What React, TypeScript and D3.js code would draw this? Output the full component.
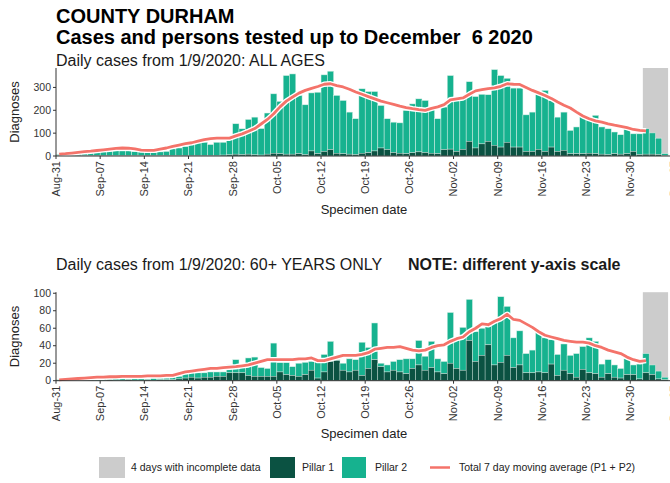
import * as d3 from "d3";

// daily values from 1 Sep 2020 to 6 Dec 2020
const firstDay = new Date(2020, 8, 1);
const incompleteDays = 4;

const weekLabels = [
  "Aug-31", "Sep-07", "Sep-14", "Sep-21", "Sep-28", "Oct-05", "Oct-12", "Oct-19",
  "Oct-26", "Nov-02", "Nov-09", "Nov-16", "Nov-23", "Nov-30", "Dec-07",
];

// ALL AGES
const allTotal = [
  6, 8, 10, 12, 10, 14, 16,
  20, 22, 24, 22, 22, 20, 18,
  16, 15, 18, 20, 31, 35, 42,
  50, 57, 60, 50, 60, 60, 75,
  141, 119, 160, 170, 120, 188, 272,
  239, 352, 359, 265, 224, 276, 279,
  355, 371, 265, 243, 192, 163, 294,
  282, 282, 221, 163, 148, 145, 199,
  228, 250, 243, 207, 163, 214, 352,
  258, 255, 325, 260, 270, 268, 378,
  352, 340, 297, 297, 180, 192, 268,
  287, 243, 170, 192, 112, 127, 178,
  166, 178, 127, 119, 105, 93, 119,
  97, 97, 119, 101, 78, 10,
];
const allPillar1 = [
  1, 1, 1, 2, 1, 2, 2,
  2, 2, 1, 2, 2, 1, 1,
  2, 1, 1, 2, 2, 2, 3,
  3, 3, 3, 3, 3, 4, 5,
  8, 6, 8, 5, 4, 8, 12,
  10, 8, 8, 10, 6, 22, 10,
  20, 28, 12, 10, 8, 6, 12,
  14, 22, 35, 28, 15, 12, 10,
  14, 18, 15, 12, 10, 28, 30,
  20, 29, 64, 35, 53, 64, 47,
  39, 60, 39, 39, 20, 20, 29,
  20, 39, 20, 25, 10, 10, 10,
  12, 10, 8, 6, 10, 8, 10,
  20, 6, 8, 8, 6, 2,
];
const allAvg = [
  8, 10, 13, 16, 19, 21, 24,
  27, 30, 33, 35, 34, 31, 26,
  25, 25, 30, 35, 42, 48, 54,
  58, 65, 72, 76, 78, 78, 78,
  88, 97, 108, 120, 140, 160, 185,
  215, 240, 258, 275, 287, 296, 304,
  314, 316, 308, 302, 292, 280, 270,
  260, 250, 240, 233, 226, 218, 212,
  207, 203, 200, 208, 215, 225, 246,
  250, 254, 270, 285, 290, 295, 298,
  305, 316, 314, 313, 300, 287, 276,
  265, 252, 236, 222, 210, 192, 175,
  163, 154, 148, 141, 135, 130, 124,
  116, 112, 110,
];

// 60+ YEARS ONLY
const oldTotal = [
  1, 1, 1, 1, 2, 2, 2,
  2, 2, 2, 2, 2, 2, 2,
  2, 3, 3, 3, 4, 5, 8,
  10, 9, 9, 10, 10, 10, 18,
  24, 16, 26, 27, 15, 14, 43,
  21, 21, 16, 20, 21, 22, 23,
  30, 45, 24, 20, 25, 24, 44,
  38, 66, 20, 18, 22, 24, 25,
  25, 46, 28, 45, 25, 22, 78,
  48, 61, 93, 56, 60, 62, 66,
  96, 85, 49, 57, 31, 35, 56,
  49, 47, 30, 42, 29, 31, 39,
  49, 45, 19, 24, 18, 14, 25,
  18, 19, 31, 18, 11, 4,
];
const oldPillar1 = [
  0, 0, 0, 0, 0, 1, 0,
  0, 1, 0, 0, 1, 0, 0,
  1, 0, 1, 1, 1, 2, 3,
  4, 3, 4, 4, 5, 5, 9,
  9, 9, 6, 5, 5, 5, 5,
  10, 7, 6, 5, 7, 12, 3,
  10, 22, 23, 12, 10, 12, 6,
  14, 24, 16, 10, 12, 10, 8,
  14, 18, 12, 15, 10, 8, 20,
  14, 12, 46, 22, 29, 41, 18,
  21, 29, 15, 18, 9, 9, 10,
  9, 19, 6, 12, 8, 4, 13,
  9, 8, 4, 8, 4, 3, 7,
  7, 2, 9, 7, 2, 1,
];
const oldAvg = [
  1, 1.5, 2, 2.5, 3, 3.5, 4,
  4, 4.5, 4.5, 5, 5, 5, 5,
  5.5, 5.5, 5.5, 6, 6, 8, 10,
  11, 12, 13, 14, 14, 15, 15.5,
  16, 17, 18, 20, 22, 24, 24,
  24, 24, 24, 25, 25, 26, 23,
  23, 25, 27, 29, 29, 29, 30,
  32, 36, 37, 38, 38, 39, 37,
  35, 34, 35, 38, 40, 41, 45,
  48, 50, 56, 60, 65, 64, 68,
  71, 76, 70, 69, 65, 61, 56,
  52, 50, 48, 46, 45, 44, 44,
  43, 40, 38, 35, 33, 31, 27,
  24, 22, 23,
];

const FONT = "'Liberation Sans', Arial, sans-serif";
const P1 = "#0b5242";
const P2 = "#16b28f";
const GREY = "#cccccc";
const LINE = "#f4736a";

const days = allTotal.map((_, i) => d3.timeDay.offset(firstDay, i));
const lastDay = days[days.length - 1];
const parseTick = d3.timeParse("%Y-%b-%d");
const tickDates = weekLabels.map((l) => parseTick("2020-" + l) as Date);

const x = d3
  .scaleTime()
  .domain([tickDates[0], tickDates[tickDates.length - 1]])
  .range([56, 674.4]);
const dayW = x(days[1]) - x(days[0]);

type PanelProps = {
  total: number[];
  pillar1: number[];
  avg: number[];
  top: number;
  zero: number;
  yMax: number;
  yTicks: number[];
  labelY: number;
};

function Panel({ total, pillar1, avg, top, zero, yMax, yTicks, labelY }: PanelProps) {
  const y = d3.scaleLinear().domain([0, yMax]).range([zero, top]);
  const line = d3
    .line<number>()
    .x((_, i) => x(days[i]) - dayW / 2)
    .y((d) => y(d));
  const greyX0 = x(d3.timeDay.offset(lastDay, -incompleteDays));
  const greyX1 = x(lastDay);
  const midY = (top + zero) / 2;

  return (
    <g>
      <rect x={greyX0} y={top} width={greyX1 - greyX0} height={zero - top} fill={GREY} />
      {days.map((d, i) => {
        const x0 = x(d3.timeDay.offset(d, -1));
        const x1 = x(d);
        return (
          <g key={i}>
            <rect
              x={x0}
              y={y(total[i])}
              width={x1 - x0}
              height={y(pillar1[i]) - y(total[i])}
              fill={P2}
              stroke="#d9f0e8"
              strokeWidth={0.5}
            />
            <rect
              x={x0}
              y={y(pillar1[i])}
              width={x1 - x0}
              height={zero - y(pillar1[i])}
              fill={P1}
              stroke="#cfe3dc"
              strokeWidth={0.4}
            />
          </g>
        );
      })}
      <path d={line(avg) || ""} fill="none" stroke="#ffffff" strokeWidth={5.5} strokeLinejoin="round" />
      <path d={line(avg) || ""} fill="none" stroke={LINE} strokeWidth={2.8} strokeLinejoin="round" />

      {/* y axis */}
      <line x1={56} x2={56} y1={top} y2={zero} stroke="#333" strokeWidth={1} />
      {yTicks.map((t) => (
        <g key={t} transform={`translate(56,${y(t)})`}>
          <line x1={-3} x2={0} stroke="#333" />
          <text x={-5} dy="0.35em" textAnchor="end" fontSize={10.5} fill="#333" fontFamily={FONT}>
            {t}
          </text>
        </g>
      ))}
      <text
        transform={`translate(19,${midY}) rotate(-90)`}
        textAnchor="middle"
        fontSize={13}
        fill="#222"
        fontFamily={FONT}
      >
        Diagnoses
      </text>

      {/* x axis */}
      <line x1={56} x2={670} y1={zero} y2={zero} stroke="#333" strokeWidth={1} />
      {tickDates.map((t, i) => (
        <g key={i} transform={`translate(${x(t)},${zero})`}>
          <line y1={0} y2={3} stroke="#333" />
          <text
            transform="translate(0,5) rotate(-90)"
            dy="0.35em"
            textAnchor="end"
            fontSize={11}
            fill="#333"
            fontFamily={FONT}
          >
            {weekLabels[i]}
          </text>
        </g>
      ))}
      <text x={364} y={labelY} textAnchor="middle" fontSize={13} fill="#222" fontFamily={FONT}>
        Specimen date
      </text>
    </g>
  );
}

export default function App() {
  return (
    <svg
      width={670}
      height={483}
      style={{ position: "absolute", left: 0, top: 0, background: "#fff" }}
      fontFamily={FONT}
    >
      <text x={56} y={23} fontSize={20} fontWeight="bold" fill="#000">
        COUNTY DURHAM
      </text>
      <text x={56} y={44} fontSize={20} fontWeight="bold" fill="#000" style={{ whiteSpace: "pre" }}>
        Cases and persons tested up to December  6 2020
      </text>

      <text x={56} y={66} fontSize={16} fill="#1a1a1a">
        Daily cases from 1/9/2020: ALL AGES
      </text>
      <Panel
        total={allTotal}
        pillar1={allPillar1}
        avg={allAvg}
        top={68}
        zero={156}
        yMax={385}
        yTicks={[0, 100, 200, 300]}
        labelY={214}
      />

      <text x={56} y={270} fontSize={16} fill="#1a1a1a">
        Daily cases from 1/9/2020: 60+ YEARS ONLY
      </text>
      <text x={408} y={270} fontSize={16} fontWeight="bold" fill="#1a1a1a">
        NOTE: different y-axis scale
      </text>
      <Panel
        total={oldTotal}
        pillar1={oldPillar1}
        avg={oldAvg}
        top={292.2}
        zero={380.7}
        yMax={101.2}
        yTicks={[0, 20, 40, 60, 80, 100]}
        labelY={438}
      />

      {/* legend */}
      <g fontSize={10.5} fill="#222">
        <rect x={99} y={457} width={26} height={21} fill={GREY} />
        <text x={131} y={471}>4 days with incomplete data</text>
        <rect x={270} y={457} width={25} height={21} fill={P1} />
        <text x={302} y={471}>Pillar 1</text>
        <rect x={342} y={457} width={24} height={21} fill={P2} />
        <text x={375} y={471}>Pillar 2</text>
        <line x1={430} x2={450} y1={467.5} y2={467.5} stroke={LINE} strokeWidth={2.5} />
        <text x={459} y={471}>Total 7 day moving average (P1 + P2)</text>
      </g>
    </svg>
  );
}
